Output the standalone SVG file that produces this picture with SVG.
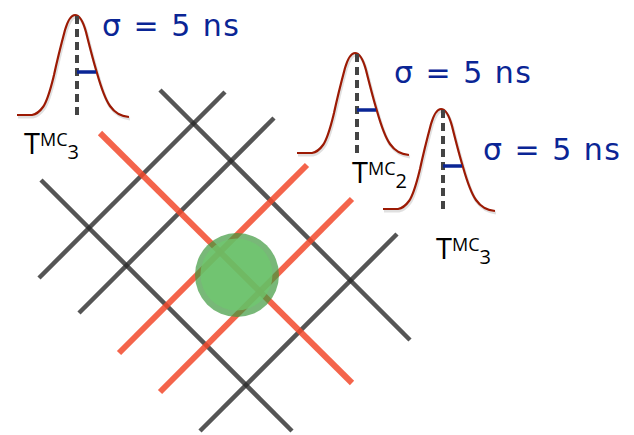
<svg xmlns="http://www.w3.org/2000/svg" xmlns:xlink="http://www.w3.org/1999/xlink" width="634" height="435" viewBox="0 0 634 435">
<style>
.g{stroke:#2a2a2a;stroke-opacity:0.8;stroke-width:4.5;stroke-linecap:butt;fill:none}
.r{stroke:#f2492c;stroke-opacity:0.85;stroke-width:6;fill:none}
.curve{fill:none;stroke:#9c1a04;stroke-width:2.2;stroke-linejoin:round}
.shadow{fill:none;stroke:#000;stroke-opacity:0.12;stroke-width:3}
.dash{stroke:#444;stroke-width:4;stroke-dasharray:8 5}
.tick{stroke:#0a2595;stroke-width:3.5}
.sig{font-family:"DejaVu Sans","Open Sans",sans-serif;font-size:30px;fill:#0a2595}
.lab{font-family:"Open Sans","DejaVu Sans",sans-serif;fill:#000}
</style>
<defs>
<path id="gauss" d="M -59,100 L -44,100 Q -38,99 -33,92 C -28,85 -25,72 -22,60 C -19,46 -15,30 -11,15 C -8,5 -5,0 -1,0 C 3,0 7,6 10,17 C 13,29 17,45 21,58 C 25,72 29,84 34,91 C 39,98 44,101 53,102"/>
<g id="pulse">
<use xlink:href="#gauss" class="shadow" transform="translate(1,2)"/>
<use xlink:href="#gauss" class="curve"/>
<line class="dash" x1="1" y1="1" x2="1" y2="103"/>
<line class="tick" x1="1" y1="57" x2="20" y2="57"/>
</g>
</defs>
<g id="grid">
<line class="g" x1="160" y1="90" x2="410" y2="340"/>
<line class="g" x1="41" y1="180" x2="292" y2="431"/>
<line class="g" x1="225" y1="92" x2="39" y2="278"/>
<line class="g" x1="274" y1="118" x2="79" y2="313"/>
<line class="g" x1="397" y1="234" x2="200" y2="431"/>
<line class="r" x1="100" y1="133" x2="352" y2="383"/>
<line class="r" x1="307" y1="165" x2="119" y2="353"/>
<line class="r" x1="352" y1="199" x2="160" y2="392"/>
</g>
<g id="hit">
<circle cx="237" cy="275" r="42" fill="#3f9a3f" fill-opacity="0.7"/>
<circle cx="236.5" cy="274.5" r="36" fill="#6fc86f" fill-opacity="0.75"/>
</g>
<g id="pulse1">
<use xlink:href="#pulse" transform="translate(76,15)"/>
<text class="sig" x="102" y="36" textLength="137" lengthAdjust="spacing">σ = 5 ns</text>
<text class="lab" x="24" y="154"><tspan font-size="29">T</tspan><tspan font-size="18" dy="-8">MC</tspan><tspan font-size="20" dy="13">3</tspan></text>
</g>
<g id="pulse2">
<use xlink:href="#pulse" transform="translate(356,53)"/>
<text class="sig" x="394" y="83" textLength="137" lengthAdjust="spacing">σ = 5 ns</text>
<text class="lab" x="352" y="183"><tspan font-size="29">T</tspan><tspan font-size="18" dy="-8">MC</tspan><tspan font-size="20" dy="13">2</tspan></text>
</g>
<g id="pulse3">
<use xlink:href="#pulse" transform="translate(442,109)"/>
<text class="sig" x="483" y="160" textLength="137" lengthAdjust="spacing">σ = 5 ns</text>
<text class="lab" x="436" y="259"><tspan font-size="29">T</tspan><tspan font-size="18" dy="-8">MC</tspan><tspan font-size="20" dy="13">3</tspan></text>
</g>
</svg>
